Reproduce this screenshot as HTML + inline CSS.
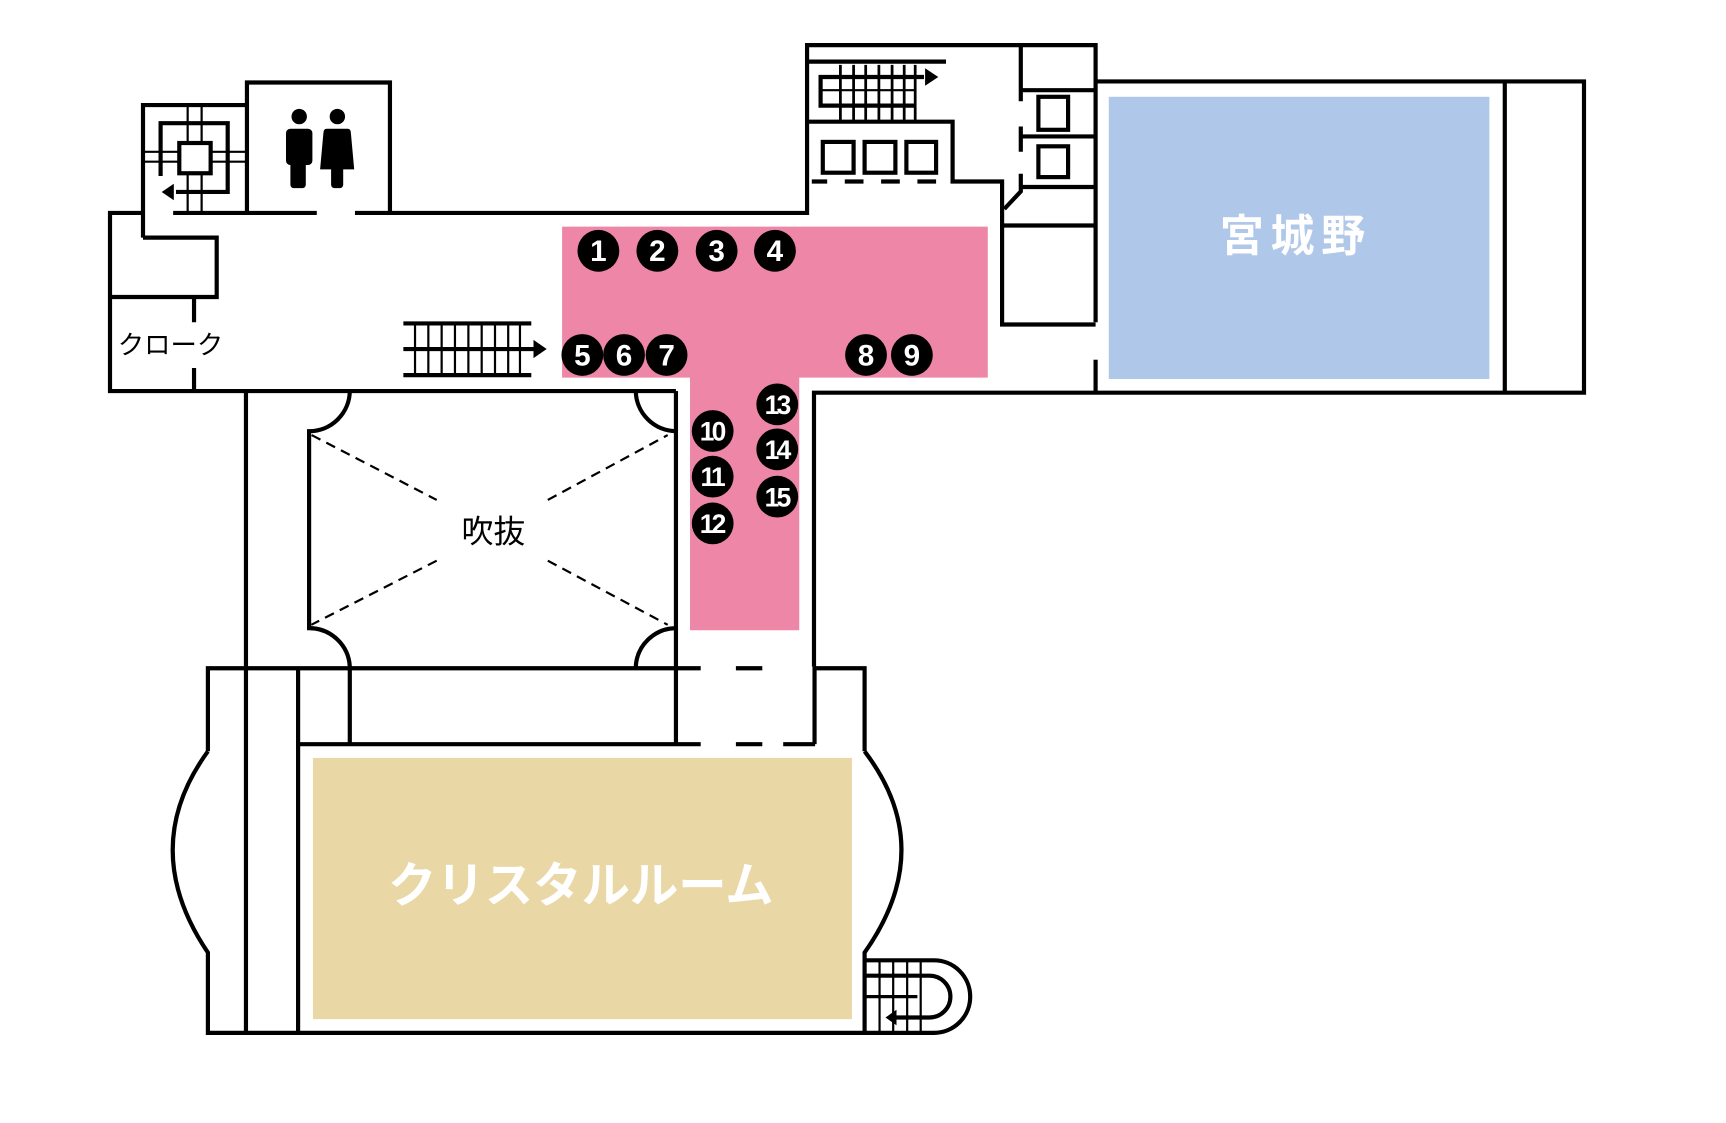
<!DOCTYPE html>
<html><head><meta charset="utf-8"><style>
html,body{margin:0;padding:0;background:#fff;}
svg{display:block;}
text{font-family:"Liberation Sans","Noto Sans CJK JP",sans-serif;}
</style></head><body>
<svg width="1726" height="1123" viewBox="0 0 1569.1 1020.9" xmlns="http://www.w3.org/2000/svg">
<rect x="0" y="0" width="1569.1" height="1020.9" fill="#fff"/>
<path d="M511 206 H898 V343.3 H726.6 V573 H627.3 V343.3 H511 Z" fill="#ee87a7"/>
<rect x="1008" y="88" width="346" height="256.5" fill="#afc7e8"/>
<rect x="284.5" y="689" width="490" height="237.5" fill="#e9d8a6"/>

<g fill="none" stroke="#000" stroke-width="3.8" stroke-linecap="butt" stroke-linejoin="miter">
<path d="M157.4 193.6 H288"/>
<path d="M322.7 193.6 H733.7 V41 H996 V293"/>
<path d="M130 216 V95.5 H224.5"/>
<path d="M130 216 H197 V270 H100"/>
<path d="M130 193.6 H100 V355.5 H614.5"/>
<path d="M176.4 270 V293 M176.4 334.5 V355.5"/>
<path d="M224.5 193.6 V75 H354.5 V193.6"/>
<path d="M146 160 V112 H207 V174.5 H160"/>
<rect x="163" y="130" width="28.5" height="27.5"/>
<path d="M170.6 95.5 V130 M170.6 157.5 V193.6 M183.3 95.5 V130 M183.3 157.5 V193.6" stroke-width="2"/>
<path d="M130 138 H163 M191.5 138 H224.5 M130 147 H163 M191.5 147 H224.5" stroke-width="2"/>
<path d="M733.7 56 H860"/>
<path d="M840 70 H746 V96 H832"/>
<path d="M764 59 V109 M776 59 V109 M787 59 V109 M799 59 V109 M811 59 V109 M822 59 V109 M832 59 V109" stroke-width="2.5"/>
<path d="M746 82 H832" stroke-width="2"/>
<path d="M733.7 110.6 H866 V165 H911 V295 H996"/>
<path d="M738 165 H752 M768 165 H785 M801 165 H818 M834 165 H851" />
<rect x="748" y="129" width="28" height="28"/>
<rect x="786" y="129" width="28" height="28"/>
<rect x="824" y="129" width="27" height="28"/>
<path d="M928 41 V92 M928 115 V138 M928 158 V174 L913 190"/>
<path d="M928 82 H996 M928 124 H996 M928 170 H996 M911 205 H996"/>
<rect x="944" y="88" width="27" height="30"/>
<rect x="944" y="133" width="27" height="28"/>
<path d="M996 74 H1440 V357 H740 V606"/>
<path d="M1368 74 V357"/>
<path d="M996 327 V357"/>
<path d="M366.7 294 H483 M366.7 317.3 H486 M366.7 341 H483"/>
<path d="M377.3 294 V341 M389.4 294 V341 M401.5 294 V341 M413.6 294 V341 M425.8 294 V341 M437.9 294 V341 M450 294 V341 M462 294 V341 M472.7 294 V341" stroke-width="2"/>
<path d="M223.6 355.5 V938"/>
<path d="M318 355.5 A37 37 0 0 1 281 392 V571 A37 37 0 0 1 318 606"/>
<path d="M578 355.5 A37 37 0 0 0 614.5 392 V571 A37 37 0 0 0 578 606"/>
<path d="M614.5 355.5 V392"/>
<path d="M614.5 571 V676.5"/>
<path d="M318 606 V676.5"/>
<path d="M189 683 V607.5 H637 M669 607.5 H693 M740.5 607.5 H786 V683"/>
<path d="M740.5 606 V676.5"/>
<path d="M271 607.5 V938 M271 676.5 H637 M669 676.5 H693 M712 676.5 H741"/>
<path d="M189 683 Q125 771 189 866 V939 H849 A33 33 0 0 0 849 873 H786"/>
<path d="M786 683 Q853 771 786 866 V939"/>
<path d="M786 887 H845 A19 19 0 0 1 845 925 H808"/>
<path d="M799.6 873 V939 M812 873 V939 M824.7 873 V939 M837 873 V939" stroke-width="2"/>
<path d="M786 906 H834" stroke-width="3"/>
<g stroke-width="2" stroke-dasharray="9,6">
<path d="M283.3 395.5 L397 454.5 M498 454.5 L607 395.5 M397 509.7 L283 568 M498 509.7 L607 568"/>
</g>
</g>
<g fill="#000">
<polygon points="485,309 497,317.3 485,325.6"/>
<polygon points="841,62 853,70 841,78"/>
<polygon points="147,174.5 158,167 158,182"/>
<polygon points="805,925 815,918 815,932"/>
<circle cx="272" cy="106" r="7"/>
<rect x="260" y="117" width="24" height="33" rx="4"/>
<rect x="264" y="140" width="14" height="31" rx="3"/>
<circle cx="306.7" cy="106" r="7"/>
<path d="M297 117 H316 Q319 117 319 121 L322 154 H291 L294 121 Q294 117 297 117 Z"/>
<rect x="301" y="150" width="11" height="21" rx="3"/>
</g>
<text x="155" y="322" font-size="24" text-anchor="middle" fill="#000">クローク</text>
<text x="448.5" y="493" font-size="29" text-anchor="middle" fill="#000">吹抜</text>
<text x="1178" y="228" font-size="40" font-weight="bold" text-anchor="middle" fill="#fff" letter-spacing="6">宮城野</text>
<text x="528" y="820" font-size="44" font-weight="bold" text-anchor="middle" fill="#fff">クリスタルルーム</text>
<g font-weight="bold" fill="#fff" text-anchor="middle" font-size="27">
<g fill="#000">
<circle cx="544" cy="228" r="19"/><circle cx="597.6" cy="228" r="19"/><circle cx="651.5" cy="228" r="19"/><circle cx="704.5" cy="228" r="19"/>
<circle cx="529.4" cy="322.7" r="19"/><circle cx="567.3" cy="322.7" r="19"/><circle cx="606" cy="322.7" r="19"/>
<circle cx="787.3" cy="322.7" r="19"/><circle cx="829" cy="322.7" r="19"/>
<circle cx="647.9" cy="391.8" r="19"/><circle cx="647.9" cy="433.3" r="19"/><circle cx="647.9" cy="475.8" r="19"/>
<circle cx="706.6" cy="367.6" r="19"/><circle cx="706.6" cy="408.5" r="19"/><circle cx="706.6" cy="451.5" r="19"/>
</g>
<text x="544" y="237.5">1</text><text x="597.6" y="237.5">2</text><text x="651.5" y="237.5">3</text><text x="704.5" y="237.5">4</text>
<text x="529.4" y="332.5">5</text><text x="567.3" y="332.5">6</text><text x="606" y="332.5">7</text>
<text x="787.3" y="332.5">8</text><text x="829" y="332.5">9</text>
<g font-size="24" letter-spacing="-2.5">
<text x="647" y="400.5">10</text><text x="647" y="442">11</text><text x="647" y="484.5">12</text>
<text x="706" y="376.5">13</text><text x="706" y="417.5">14</text><text x="706" y="460.5">15</text>
</g>
</g>
</svg>
</body></html>
